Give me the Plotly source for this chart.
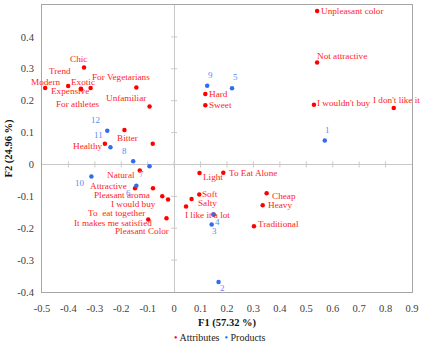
import plotly.graph_objects as go

# ---- data -------------------------------------------------------------
attr_series = "Attributes"
prod_series = "Products"

attr_names = [
    "Unpleasant color", "Not attractive", "I wouldn't buy", "I don't like it",
    "Chic", "Trend", "Modern", "Exotic", "Expensive", "For athletes",
    "For Vegetarians", "Unfamiliar", "Bitter", "Healthy", "",
    "Hard", "Sweet",
    "Natural", "Attractive", "Pleasant aroma", "I would buy",
    "To\u00a0 eat together", "It makes me satisfied", "Pleasant Color",
    "Light", "To Eat Alone", "Soft", "Salty", "I like it a lot", "",
    "Cheap", "Heavy", "Traditional",
]
attr_f1 = [
    0.541, 0.541, 0.529, 0.831,
    -0.341, -0.353, -0.488, -0.401, -0.316, -0.352,
    -0.143, -0.093, -0.188, -0.262, -0.081,
    0.118, 0.118,
    -0.130, -0.148, -0.080, -0.045,
    -0.023, -0.098, -0.029,
    0.096, 0.186, 0.095, 0.066, 0.045, 0.149,
    0.350, 0.335, 0.302,
]
attr_f2 = [
    0.481, 0.320, 0.187, 0.177,
    0.304, 0.237, 0.240, 0.246, 0.240, 0.236,
    0.241, 0.182, 0.108, 0.065, 0.065,
    0.221, 0.186,
    -0.019, -0.075, -0.075, -0.100,
    -0.110, -0.173, -0.169,
    -0.027, -0.026, -0.094, -0.108, -0.132, -0.157,
    -0.090, -0.128, -0.194,
]

prod_names = ["1", "2", "3", "4", "5", "6", "7", "8", "9", "10", "11", "12"]
prod_f1 = [0.570, 0.168, 0.142, 0.149, 0.219, -0.143, -0.093, -0.155, 0.125, -0.313, -0.241, -0.253]
prod_f2 = [0.075, -0.369, -0.188, -0.157, 0.239, -0.067, -0.006, 0.010, 0.247, -0.0375, 0.054, 0.106]

x_ticks = [-0.5, -0.4, -0.3, -0.2, -0.1, 0, 0.1, 0.2, 0.3, 0.4, 0.5, 0.6, 0.7, 0.8, 0.9]
x_tick_text = ["-0.5", "-0.4", "-0.3", "-0.2", "-0.1", "0", "0.1", "0.2", "0.3", "0.4",
               "0.5", "0.6", "0.7", "0.8", "0.9"]
y_ticks = [-0.4, -0.3, -0.2, -0.1, 0, 0.1, 0.2, 0.3, 0.4, 0.5]
y_tick_text = ["-0.4", "-0.3", "-0.2", "-0.1", "0", "0.1", "0.2", "0.3", "0.4", "0.5"]

x_title = "F1 (57.32 %)"
y_title = "F2 (24.96 %)"

# ---- label placement (anchor side, x offset px, y offset px downwards) ----
attr_label_pos = [
    ("l", 3, 0), ("l", -1, -6), ("l", 2, -2), ("c", 3, -8),
    ("c", -6, -9), ("c", -21, -17.5), ("c", 0, -6), ("l", 2, -4), ("r", -1, 3), ("c", -3, 15),
    ("c", -15, -11), ("r", -3, -8), ("c", 3.5, 7.5), ("r", -2, 2.5), ("c", 0, 0),
    ("l", 2.5, 0), ("l", 2.5, 0),
    ("r", -3.5, 4.5), ("r", -7.5, -2.5), ("r", -2, 7), ("r", -5, 7.5),
    ("r", -22, 13.5), ("r", 4.5, 3), ("r", 3.5, 13),
    ("l", 2.5, 4), ("l", 4.5, 0), ("l", 2, 0), ("l", 5.5, 4.5), ("l", -2.5, 8), ("c", 0, 0),
    ("l", 4.5, 2.5), ("l", 4.5, 0), ("l", 3, -2.5),
]
prod_label_pos = [
    (3, -11), (3.5, 6), (3.3, 7), (3.5, 7), (3.4, -11), (-8.3, 7),
    (-8, 7.3), (-8.7, -10), (3.4, -10.3), (-11.4, 6.7), (-12, -12), (-12, -11),
]

# ---- styles -----------------------------------------------------------
FONT = "Liberation Serif, Times New Roman, serif"
RED = "#ff0000"
RED_TXT = "#ff2424"
BLUE = "#2f6cf2"
BLUE_TXT = "#5a8cf0"
FRAME = "#a6a6a6"
ZERO = "#c8c8c8"

fig = go.Figure()
fig.add_trace(go.Scatter(
    x=attr_f1, y=attr_f2, mode="markers", name=attr_series,
    marker=dict(color=RED, size=4.5), hoverinfo="text", text=attr_names,
))
fig.add_trace(go.Scatter(
    x=prod_f1, y=prod_f2, mode="markers", name=prod_series,
    marker=dict(color=BLUE, size=4.5), hoverinfo="text", text=prod_names,
))

anchor_map = {"l": "left", "r": "right", "c": "center"}
annotations = []
for name, fx, fy, (side, dx, dy) in zip(attr_names, attr_f1, attr_f2, attr_label_pos):
    if not name:
        continue
    annotations.append(dict(
        x=fx, y=fy, xref="x", yref="y", text=name, showarrow=False,
        xanchor=anchor_map[side], yanchor="middle", xshift=dx, yshift=-dy,
        font=dict(family=FONT, size=9.2, color=RED_TXT), borderpad=0,
    ))
for name, fx, fy, (dx, dy) in zip(prod_names, prod_f1, prod_f2, prod_label_pos):
    annotations.append(dict(
        x=fx, y=fy, xref="x", yref="y", text=name, showarrow=False,
        xanchor="center", yanchor="middle", xshift=dx, yshift=-dy,
        font=dict(family=FONT, size=9, color=BLUE_TXT), borderpad=0,
    ))

# axis titles
annotations.append(dict(
    x=0.5, y=0, xref="paper", yref="paper", text=f"<b>{x_title}</b>", showarrow=False,
    xanchor="center", yanchor="middle", yshift=-30.5,
    font=dict(family=FONT, size=10.5, color="#111111"),
))
annotations.append(dict(
    x=0, y=0.5, xref="paper", yref="paper", text=f"<b>{y_title}</b>", showarrow=False,
    xanchor="center", yanchor="middle", xshift=-34, textangle=-90,
    font=dict(family=FONT, size=10.5, color="#111111"),
))

# series key below the plot
key_text = (
    f"<span style='color:{RED}'>•</span> {attr_series}"
    f"\u00a0\u00a0<span style='color:{BLUE}'>•</span> {prod_series}"
)
annotations.append(dict(
    x=0.482, y=0, xref="paper", yref="paper", text=key_text, showarrow=False,
    xanchor="center", yanchor="middle", yshift=-45.5,
    font=dict(family=FONT, size=10, color="#222222"),
))

# small tick marks along the zero lines
shapes = []
for v in x_ticks:
    if v in (x_ticks[0], x_ticks[-1]):
        continue
    shapes.append(dict(
        type="line", xref="x", yref="y", x0=v, x1=v,
        ysizemode="pixel", yanchor=0, y0=-3, y1=3,
        line=dict(color=ZERO, width=1), layer="below",
    ))
for v in y_ticks:
    if v in (y_ticks[0], y_ticks[-1]):
        continue
    shapes.append(dict(
        type="line", xref="x", yref="y", y0=v, y1=v,
        xsizemode="pixel", xanchor=0, x0=-3, x1=3,
        line=dict(color=ZERO, width=1), layer="below",
    ))

axis_common = dict(
    showgrid=False, zeroline=True, zerolinecolor=ZERO, zerolinewidth=1,
    showline=True, linecolor=FRAME, linewidth=1, mirror=True,
    ticks="", tickfont=dict(family=FONT, size=10.5, color="#404040"),
)

fig.update_layout(
    width=423, height=342,
    margin=dict(l=42, r=9, t=4, b=50),
    paper_bgcolor="white", plot_bgcolor="white",
    showlegend=False,
    xaxis=dict(range=[-0.5, 0.9], tickvals=x_ticks, ticktext=x_tick_text,
               ticklabelstandoff=6, **axis_common),
    yaxis=dict(range=[-0.4, 0.5], tickvals=y_ticks, ticktext=y_tick_text,
               ticklabelstandoff=5, **axis_common),
    annotations=annotations,
    shapes=shapes,
)

fig.write_html("out.html")
